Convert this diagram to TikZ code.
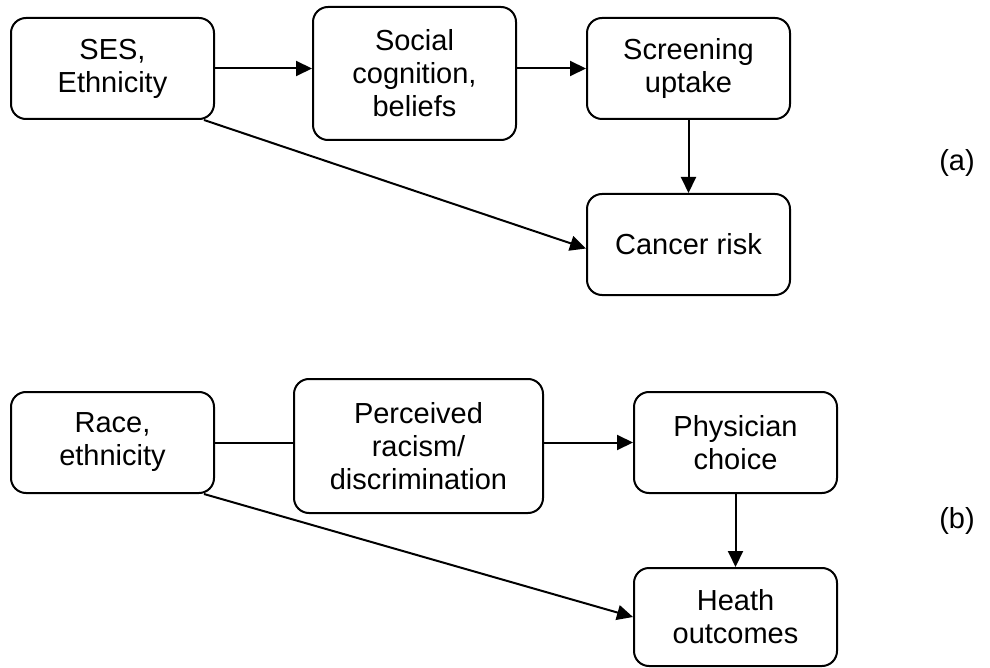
\documentclass[tikz,border=0pt]{standalone}
\usepackage{fontspec}
\setmainfont{Liberation Sans}
\usetikzlibrary{arrows.meta}
\begin{document}
\begin{tikzpicture}[x=1pt,y=-1pt,
  box/.style={draw, line width=2pt, rounded corners=15pt, align=center,
    inner sep=0pt, font=\fontsize{29}{33}\selectfont},
  lbl/.style={font=\fontsize{29}{33}\selectfont, inner sep=0pt},
  arr/.style={line width=2pt, -{Triangle[length=16pt,width=15pt]}},
  ln/.style={line width=2pt}]
\useasboundingbox (0,0) rectangle (990,668);
% (a)
\node[box, minimum width=203pt, minimum height=101pt] (ses) at (112.5,68.5) {SES,\\Ethnicity};
\node[box, minimum width=203pt, minimum height=133pt] (soc) at (414.5,73.5) {Social\\cognition,\\beliefs};
\node[box, minimum width=203pt, minimum height=101pt] (scr) at (688.5,68.5) {Screening\\uptake};
\node[box, minimum width=203pt, minimum height=101pt] (can) at (688.5,244.5) {Cancer risk};
\node[lbl] (la) at (957,163) {(a)};
\draw[arr] (ses.east) -- (ses.east -| soc.west);
\draw[arr] (soc.east |- scr.west) -- (scr.west);
\draw[arr] (scr.south) -- (can.north);
\draw[arr] ([xshift=-11pt]ses.south east) -- ([yshift=-4pt]can.west);
% (b)
\node[box, minimum width=203pt, minimum height=101pt] (race) at (112.5,442.5) {Race,\\ethnicity};
\node[box, minimum width=249pt, minimum height=134pt] (per) at (418.5,446) {Perceived\\racism/\\discrimination};
\node[box, minimum width=203pt, minimum height=101pt] (phy) at (735.5,442.5) {Physician\\choice};
\node[box, minimum width=203pt, minimum height=98pt] (hea) at (735.5,617) {Heath\\outcomes};
\node[lbl] (lb) at (957,521) {(b)};
\draw[ln] (race.east) -- (race.east -| per.west);
\draw[arr] (per.east |- phy.west) -- (phy.west);
\draw[arr] (phy.south) -- (hea.north);
\draw[arr] ([xshift=-11pt]race.south east) -- (hea.west);
\end{tikzpicture}
\end{document}
